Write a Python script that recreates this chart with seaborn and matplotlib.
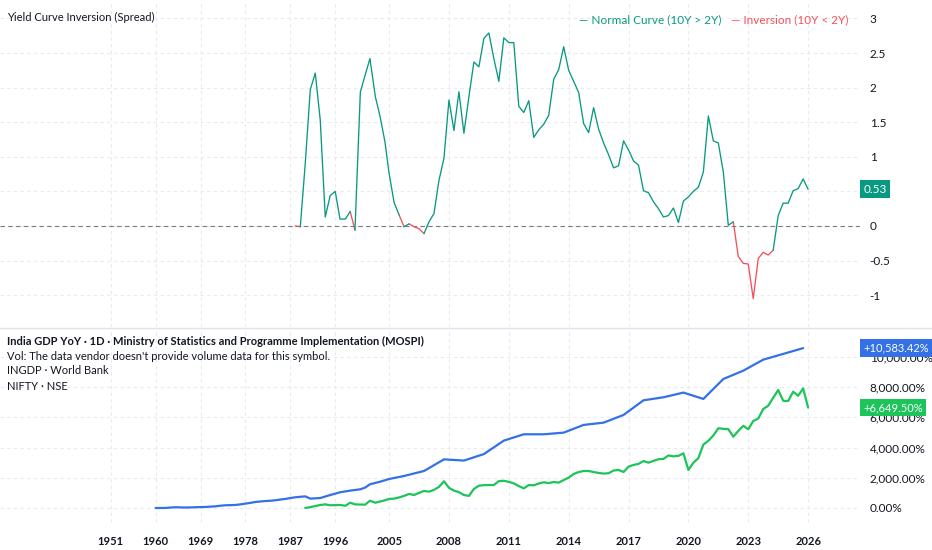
import numpy as np
import pandas as pd
import matplotlib
matplotlib.use('Agg')
import matplotlib.pyplot as plt
import matplotlib.transforms as mtransforms
from matplotlib.lines import Line2D
from matplotlib.ticker import FuncFormatter
import seaborn as sns

# --- data ---
# 10Y - 2Y spread, sparse bars before 2005, quarterly afterwards
spread_early_years = [1988, 1989, 1990, 1991, 1992, 1993, 1994, 1995, 1996,
                      1996.8, 1997.7, 1998.5, 1999.3, 2000.2, 2001.0, 2001.8,
                      2002.7, 2003.5, 2004.3]
spread_early = [0.0, -0.01, 0.91, 1.97, 2.21, 1.53, 0.13, 0.44, 0.50,
                0.10, 0.10, 0.21, -0.06, 1.94, 2.18, 2.42, 1.87, 1.58, 1.22]
spread_q = [0.76, 0.34, 0.16, -0.01, 0.03, -0.01, -0.04, -0.11, 0.06, 0.18,
            0.66, 0.98, 1.82, 1.38, 1.94, 1.34, 1.87, 2.37, 2.30, 2.71,
            2.79, 2.42, 2.09, 2.72, 2.65, 2.65, 1.73, 1.64, 1.81, 1.28,
            1.39, 1.47, 1.60, 2.12, 2.26, 2.59, 2.25, 2.09, 1.93, 1.48,
            1.35, 1.71, 1.40, 1.20, 1.03, 0.84, 0.87, 1.23, 1.10, 0.94,
            0.88, 0.51, 0.48, 0.35, 0.25, 0.13, 0.15, 0.26, 0.05, 0.36,
            0.42, 0.50, 0.56, 0.78, 1.59, 1.23, 1.20, 0.78, 0.01, 0.06,
            -0.44, -0.54, -0.55, -1.05, -0.47, -0.38, -0.42, -0.35, 0.15, 0.33,
            0.33, 0.51, 0.54, 0.68, 0.53]

# India GDP (INGDP), % change since 1960
gdp_years = list(range(1960, 1997)) + [1996.8, 1998.5, 2000.2, 2001.0, 2001.8, 2003.5, 2005.0] \
    + list(np.arange(2005.75, 2026, 1.0))
gdp = [0, 0, 5, 30, 50, 40, 30, 40, 50, 60, 70, 90, 110, 150, 180, 190, 200, 240,
       290, 340, 400, 430, 460, 480, 510, 560, 600, 660, 710, 740, 770, 620, 640,
       660, 760, 860, 950,
       1040, 1150, 1240, 1350, 1570, 1740, 1920,
       2120, 2450, 3220, 3140, 3570, 4460, 4880, 4880, 4990, 5500, 5650, 6160,
       7130, 7330, 7640, 7220, 8540, 9090, 9820, 10200, 10583.42]

# NIFTY, % change since 1990
nifty_early_years = [1990, 1991, 1992, 1993, 1994, 1995, 1996, 1996.8, 1997.7,
                     1998.5, 1999.3, 2000.2, 2001.0, 2001.8, 2002.7, 2003.5, 2004.3]
nifty_early = [0, 60, 130, 200, 240, 180, 190, 200, 150, 350, 240, 230, 220,
               480, 350, 430, 510]
nifty_q = [600, 620, 700, 800, 930, 860, 1000, 1130, 1080, 1200,
           1400, 1770, 1340, 1150, 1050, 860, 800, 1260, 1480, 1510,
           1520, 1520, 1780, 1800, 1730, 1630, 1450, 1300, 1520, 1500,
           1620, 1700, 1650, 1720, 1680, 1850, 2010, 2250, 2380, 2450,
           2450, 2380, 2320, 2280, 2300, 2480, 2520, 2380, 2740, 2850,
           2920, 3110, 3000, 3120, 3230, 3250, 3480, 3420, 3450, 3620,
           2520, 3000, 3300, 4200, 4450, 4800, 5280, 5240, 5220, 4720,
           5100, 5440, 5210, 5760, 5920, 6550, 6770, 7300, 7810, 7100,
           7080, 7700, 7430, 7920, 6649.50]

year_ticks = [1951, 1960, 1969, 1978, 1987, 1996, 2005, 2008, 2011, 2014,
              2017, 2020, 2023, 2026]
spread_ticks = [-1, -0.5, 0, 0.5, 1, 1.5, 2, 2.5, 3]
pct_ticks = [0, 2000, 4000, 6000, 8000, 10000]

q_years = 2005 + np.arange(len(spread_q)) / 4

# --- style ---
sns.set_theme(style='white')
plt.rcParams['font.family'] = ['Lato', 'DejaVu Sans']

TEAL = '#089981'
RED = '#f4505c'
BLUE = '#3470e6'
GREEN = '#1cc45a'
GRID = '#e8eaef'
TXT = '#131722'

# time axis of the chart is bar based, so use a piecewise linear scale
yr_anchor = [1900, 1951, 1996, 2005, 2026, 2060]
bar_anchor = [-51, 0, 45, 55.8, 139.8, 275.8]


def fwd(x):
    return np.interp(x, yr_anchor, bar_anchor)


def inv(b):
    return np.interp(b, bar_anchor, yr_anchor)


fig = plt.figure(figsize=(9.32, 5.5), dpi=100)
W, H = 932, 550
ax1 = fig.add_axes([0, 1 - 327 / H, 860 / W, 327 / H])
ax2 = fig.add_axes([0, 1 - 522 / H, 860 / W, 194 / H])

# spread line coloured by sign of each segment end
sx = list(spread_early_years) + list(q_years)
sy = spread_early + spread_q
rows = []
run = 0
prev = None
for i in range(1, len(sx)):
    state = 'inv' if sy[i] < 0 else 'norm'
    if state != prev:
        run += 1
        rows.append((run, state, sx[i - 1], sy[i - 1]))
        prev = state
    rows.append((run, state, sx[i], sy[i]))
seg = pd.DataFrame(rows, columns=['run', 'state', 'year', 'spread'])
sns.lineplot(data=seg, x='year', y='spread', hue='state', units='run',
             estimator=None, palette={'norm': TEAL, 'inv': RED}, lw=0.95,
             legend=False, ax=ax1)
ax1.axhline(0, color='#787b86', lw=0.8, ls=(0, (4, 3)), zorder=1)

gdp_df = pd.DataFrame({'year': gdp_years, 'pct': gdp})
nifty_df = pd.DataFrame({'year': nifty_early_years + list(q_years),
                         'pct': nifty_early + nifty_q})
sns.lineplot(data=gdp_df, x='year', y='pct', color=BLUE, lw=1.6, ax=ax2)
sns.lineplot(data=nifty_df, x='year', y='pct', color=GREEN, lw=1.6, ax=ax2)

for ax in (ax1, ax2):
    ax.set_xscale('function', functions=(fwd, inv))
    ax.set_xlim(1928.8, 2028.6)
    ax.set_xticks(year_ticks)
    ax.yaxis.tick_right()
    ax.grid(True, color=GRID, lw=0.8, ls=(0, (3, 3)))
    ax.set_axisbelow(True)
    ax.set_xlabel('')
    ax.set_ylabel('')
    for s in ax.spines.values():
        s.set_visible(False)
    ax.tick_params(axis='y', length=0, pad=7, labelsize=8.5, labelcolor=TXT)
    ax.tick_params(axis='x', length=0)

last_spread = spread_q[-1]
ax1.set_ylim(-1.46, 3.266)
ax1.set_yticks(spread_ticks)
# the 0.5 label sits under the last-value badge
ax1.yaxis.set_major_formatter(
    FuncFormatter(lambda v, p: '' if abs(v - last_spread) < 0.1 else f'{v:g}'))
ax1.tick_params(axis='x', labelbottom=False)

ax2.set_ylim(-927, 11916)
ax2.set_yticks(pct_ticks)
ax2.yaxis.set_major_formatter(FuncFormatter(lambda v, p: f'{v:,.2f}%'))
ax2.tick_params(axis='x', labelsize=8, pad=10, labelcolor=TXT)
for lab in ax2.get_xticklabels():
    lab.set_fontweight('bold')


# last value badges on the price scale
def badge(ax, val, text, color, size):
    tr = mtransforms.blended_transform_factory(ax.transAxes, ax.transData)
    ax.text(1.004, val, text, transform=tr, ha='left', va='center',
            fontsize=size, color='white', clip_on=False, zorder=10,
            bbox=dict(boxstyle='square,pad=0.3', fc=color, ec='none'))


badge(ax1, last_spread, f'{last_spread:.2f}', TEAL, 8.5)
badge(ax2, gdp[-1], f'+{gdp[-1]:,.2f}%', BLUE, 8)
badge(ax2, nifty_q[-1], f'+{nifty_q[-1]:,.2f}%', GREEN, 8)

# separator between panes
fig.add_artist(Line2D([0, 1], [1 - 327.5 / H] * 2, color='#e0e3eb', lw=1))

# pane headers
fig.text(7 / W, 1 - 17 / H, 'Yield Curve Inversion (Spread)', fontsize=8,
         color=TXT, va='center')
fig.text(848 / W, 1 - 20 / H, '\u2014 Inversion (10Y < 2Y)', fontsize=8.5,
         color=RED, va='center', ha='right')
fig.text(721 / W, 1 - 20 / H, '\u2014 Normal Curve (10Y > 2Y)', fontsize=8.5,
         color=TEAL, va='center', ha='right')

fig.text(7 / W, 1 - 341 / H,
         'India GDP YoY \u00b7 1D \u00b7 Ministry of Statistics and Programme Implementation (MOSPI)',
         fontsize=8, color=TXT, va='center', fontweight='bold')
fig.text(7 / W, 1 - 356 / H,
         "Vol: The data vendor doesn't provide volume data for this symbol.",
         fontsize=8, color=TXT, va='center')
fig.text(7 / W, 1 - 371 / H, 'INGDP \u00b7 World Bank', fontsize=8,
         color=TXT, va='center')
fig.text(7 / W, 1 - 386 / H, 'NIFTY \u00b7 NSE', fontsize=8, color=TXT,
         va='center')

fig.savefig('out.png', dpi=100, facecolor='white')
